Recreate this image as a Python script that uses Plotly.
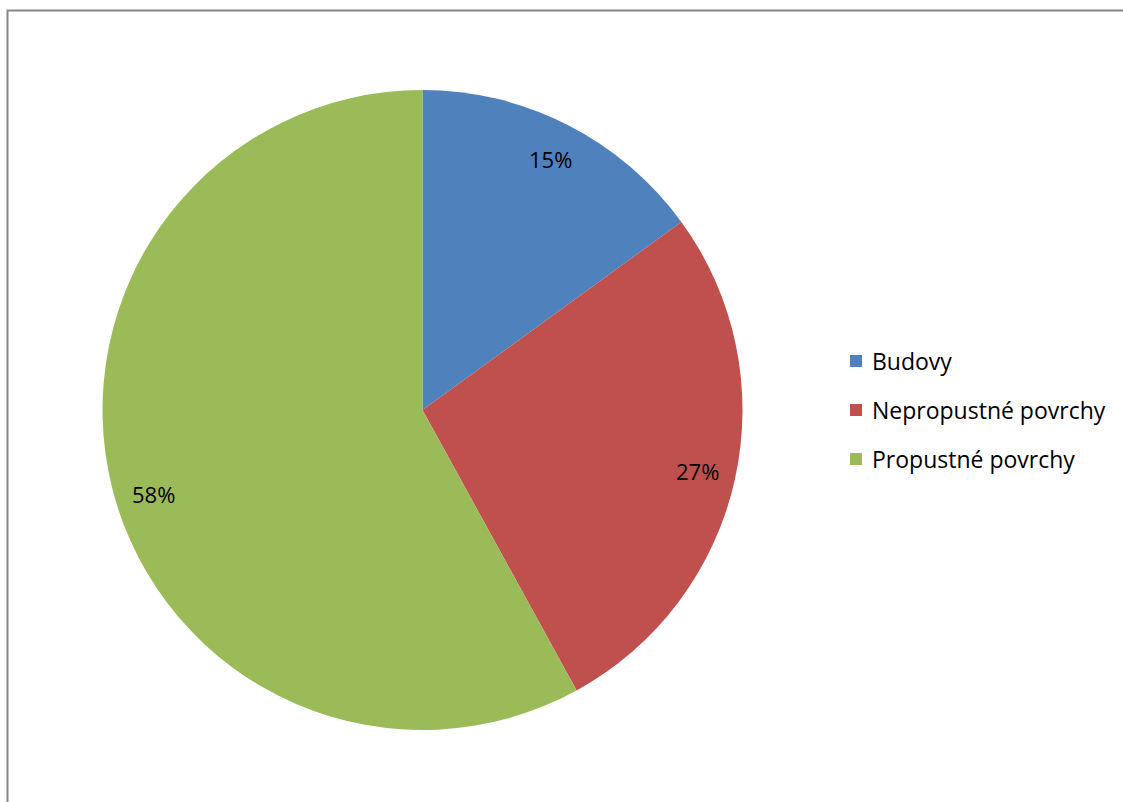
import math
import plotly.graph_objects as go

categories = ["Budovy", "Nepropustné povrchy", "Propustné povrchy"]
values = [15, 27, 58]
colors = ["#4F81BD", "#C0504D", "#9BBB59"]

W, H = 1123, 802
CX, CY, R = 422.5, 410.0, 320.0
FONT = "Open Sans"

fig = go.Figure(go.Pie(
    labels=categories, values=values, sort=False, direction="clockwise",
    rotation=0, marker=dict(colors=colors, line=dict(width=0)),
    textinfo="none", hoverinfo="label+percent", showlegend=False,
    domain=dict(x=[(CX - R) / W, (CX + R) / W], y=[1 - (CY + R) / H, 1 - (CY - R) / H]),
))

# percentage labels, placed from the data angles
label_shift = [0.0, 0.0, -3.0]   # degrees; small best-fit offset
label_r = 0.88
total = sum(values)
cum = 0
annotations = []
for v, sh in zip(values, label_shift):
    mid = (cum + v / 2) / total * 360 + sh
    cum += v
    a = math.radians(mid)
    px = CX + label_r * R * math.sin(a)
    py = CY - label_r * R * math.cos(a)
    annotations.append(dict(x=px / W, y=1 - py / H, xref="paper", yref="paper",
                            xanchor="center", yanchor="middle",
                            text=f"{round(v / total * 100)}%", showarrow=False,
                            font=dict(family=FONT, size=22, color="#000000")))

# manual legend
shapes = []
leg_x, leg_y0, leg_dy, sq = 850, 361, 49, 12
for i, (c, col) in enumerate(zip(categories, colors)):
    y = leg_y0 + i * leg_dy
    shapes.append(dict(type="rect", xref="paper", yref="paper",
                       x0=leg_x / W, x1=(leg_x + sq) / W,
                       y0=1 - (y + sq / 2) / H, y1=1 - (y - sq / 2) / H,
                       fillcolor=col, line=dict(width=0)))
    annotations.append(dict(x=(leg_x + sq + 8) / W, y=1 - y / H, xref="paper", yref="paper",
                            text=c, showarrow=False, xanchor="left", yanchor="middle",
                            font=dict(family=FONT, size=23, color="#000000")))

# chart border
shapes.append(dict(type="rect", xref="paper", yref="paper",
                   x0=7.5 / W, x1=(W + 20) / W, y0=-20 / H, y1=1 - 10.5 / H,
                   line=dict(color="#868686", width=2), fillcolor="rgba(0,0,0,0)"))

fig.update_layout(width=W, height=H, margin=dict(l=0, r=0, t=0, b=0),
                  paper_bgcolor="white", plot_bgcolor="white",
                  annotations=annotations, shapes=shapes)
fig.write_html("out.html")
